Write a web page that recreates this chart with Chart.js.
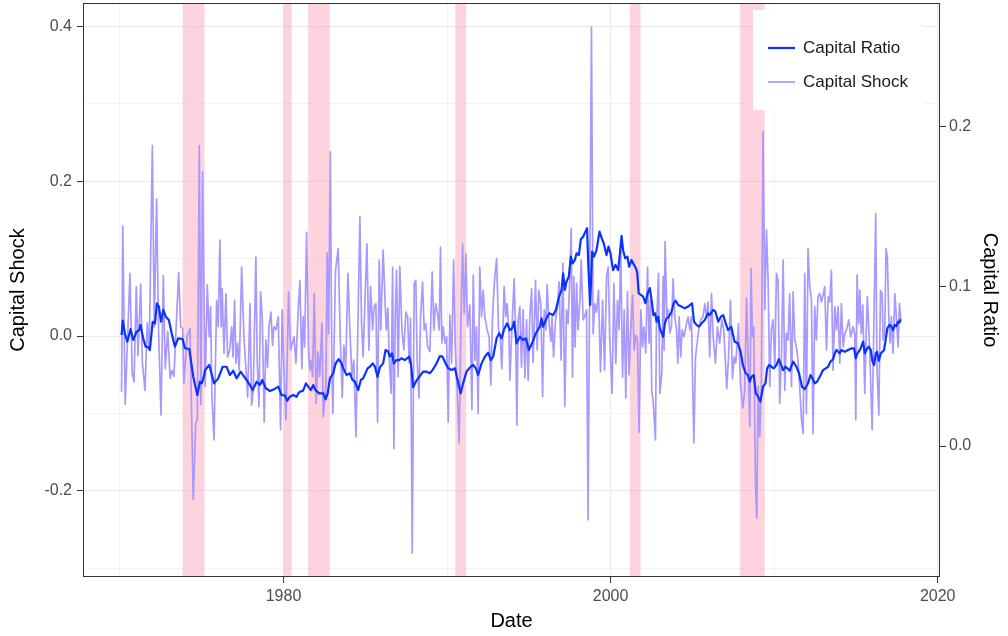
<!DOCTYPE html>
<html><head><meta charset="utf-8">
<script src="https://cdn.jsdelivr.net/npm/chart.js@4.4.1/dist/chart.umd.min.js"></script>
<style>html,body{margin:0;padding:0;background:#fff}#wrap{width:1008px;height:636px;position:relative}</style>
</head><body><div id="wrap"><canvas id="c"></canvas></div>
<script>
// ---- data ----
const shockDates = [1970.10,1970.17,1970.32,1970.61,1970.75,1970.86,1971.00,1971.10,1971.27,1971.37,1971.53,1971.67,1971.79,1971.98,1972.10,1972.24,1972.36,1972.51,1972.65,1972.77,1972.92,1973.07,1973.18,1973.30,1973.44,1973.59,1973.71,1973.83,1973.91,1974.10,1974.28,1974.48,1974.63,1974.73,1974.85,1974.95,1975.05,1975.21,1975.34,1975.46,1975.54,1975.62,1975.75,1975.91,1976.01,1976.11,1976.19,1976.25,1976.36,1976.48,1976.58,1976.71,1976.83,1976.91,1977.01,1977.09,1977.19,1977.29,1977.44,1977.58,1977.68,1977.81,1977.95,1978.05,1978.15,1978.31,1978.39,1978.50,1978.60,1978.70,1978.82,1978.92,1979.03,1979.11,1979.23,1979.33,1979.41,1979.54,1979.68,1979.82,1979.92,1980.02,1980.15,1980.31,1980.43,1980.64,1980.76,1980.88,1981.00,1981.12,1981.20,1981.29,1981.41,1981.53,1981.61,1981.69,1981.78,1981.88,1982.00,1982.10,1982.21,1982.35,1982.43,1982.59,1982.67,1982.76,1982.86,1982.96,1983.02,1983.10,1983.18,1983.34,1983.47,1983.59,1983.69,1983.80,1983.94,1984.06,1984.18,1984.30,1984.43,1984.53,1984.67,1984.77,1984.87,1984.98,1985.10,1985.22,1985.32,1985.45,1985.54,1985.65,1985.75,1985.85,1985.95,1986.09,1986.28,1986.38,1986.46,1986.58,1986.67,1986.75,1986.83,1986.91,1987.01,1987.11,1987.24,1987.36,1987.48,1987.59,1987.68,1987.77,1987.87,1987.99,1988.09,1988.17,1988.28,1988.38,1988.50,1988.60,1988.70,1988.81,1988.95,1989.09,1989.19,1989.30,1989.42,1989.52,1989.60,1989.68,1989.76,1989.87,1989.97,1990.07,1990.17,1990.28,1990.40,1990.50,1990.62,1990.74,1990.84,1990.95,1991.05,1991.15,1991.25,1991.39,1991.52,1991.60,1991.70,1991.80,1991.90,1992.00,1992.11,1992.21,1992.31,1992.45,1992.57,1992.68,1992.78,1992.90,1993.03,1993.15,1993.25,1993.35,1993.49,1993.59,1993.67,1993.78,1993.84,1993.96,1994.10,1994.19,1994.27,1994.35,1994.45,1994.55,1994.65,1994.76,1994.86,1994.96,1995.06,1995.17,1995.26,1995.41,1995.51,1995.61,1995.73,1995.84,1995.94,1996.04,1996.12,1996.24,1996.35,1996.42,1996.51,1996.63,1996.75,1996.85,1996.97,1997.08,1997.20,1997.30,1997.40,1997.51,1997.59,1997.67,1997.75,1997.83,1997.92,1998.01,1998.12,1998.20,1998.32,1998.42,1998.53,1998.62,1998.83,1998.93,1999.03,1999.14,1999.26,1999.38,1999.51,1999.63,1999.75,1999.85,1999.95,2000.09,2000.20,2000.32,2000.42,2000.52,2000.62,2000.73,2000.83,2000.93,2001.03,2001.13,2001.23,2001.34,2001.44,2001.54,2001.64,2001.74,2001.85,2001.95,2002.03,2002.15,2002.26,2002.35,2002.44,2002.52,2002.60,2002.74,2002.80,2002.93,2003.01,2003.13,2003.21,2003.27,2003.33,2003.44,2003.52,2003.62,2003.72,2003.82,2003.92,2004.03,2004.11,2004.19,2004.29,2004.37,2004.49,2004.64,2004.74,2004.84,2004.94,2005.09,2005.19,2005.29,2005.41,2005.51,2005.65,2005.76,2005.86,2005.96,2006.06,2006.17,2006.27,2006.41,2006.53,2006.67,2006.80,2006.92,2007.10,2007.21,2007.33,2007.45,2007.55,2007.65,2007.82,2007.94,2008.08,2008.20,2008.31,2008.41,2008.51,2008.59,2008.67,2008.75,2008.86,2008.94,2009.02,2009.12,2009.22,2009.32,2009.43,2009.53,2009.63,2009.73,2009.83,2009.93,2010.04,2010.14,2010.24,2010.34,2010.45,2010.55,2010.65,2010.75,2010.85,2010.95,2011.06,2011.16,2011.26,2011.36,2011.46,2011.56,2011.67,2011.77,2011.87,2011.97,2012.07,2012.18,2012.28,2012.38,2012.48,2012.58,2012.68,2012.79,2012.89,2012.99,2013.09,2013.20,2013.30,2013.40,2013.50,2013.60,2013.71,2013.81,2013.91,2014.01,2014.11,2014.22,2014.32,2014.42,2014.56,2014.68,2014.83,2014.93,2014.99,2015.07,2015.17,2015.24,2015.33,2015.42,2015.54,2015.62,2015.70,2015.84,2015.99,2016.09,2016.21,2016.29,2016.40,2016.50,2016.60,2016.66,2016.76,2016.84,2016.92,2017.01,2017.09,2017.17,2017.27,2017.38,2017.47,2017.58,2017.66,2017.74];
const shockValues = [-0.072,0.142,-0.088,0.081,-0.048,-0.059,0.064,-0.025,0.067,-0.035,-0.070,0.017,-0.018,0.246,0.012,0.177,0.008,-0.102,0.078,-0.042,0.006,-0.055,-0.044,-0.052,0.014,0.082,0.012,0.010,-0.061,-0.001,0.010,-0.211,-0.113,-0.108,0.246,-0.088,0.212,-0.065,0.066,-0.001,0.038,-0.076,-0.134,0.046,0.012,0.124,0.012,0.061,-0.022,0.055,-0.027,-0.018,0.012,-0.027,0.046,-0.035,-0.009,-0.044,0.089,-0.001,-0.035,-0.079,0.042,-0.089,-0.070,0.102,-0.031,-0.091,0.057,0.025,-0.111,-0.005,-0.040,0.012,0.031,-0.012,0.012,0.008,0.025,-0.121,0.034,-0.040,-0.108,0.057,-0.018,-0.001,-0.035,0.025,0.072,-0.042,0.025,-0.014,0.134,-0.020,-0.044,-0.031,-0.052,0.055,-0.087,-0.020,-0.052,0.017,-0.104,-0.065,0.107,0.003,0.238,-0.052,-0.100,-0.001,0.085,0.113,-0.001,-0.079,-0.012,-0.044,0.081,0.006,-0.051,-0.031,-0.130,-0.009,0.154,0.018,-0.027,0.046,0.119,-0.018,0.064,0.008,0.038,0.042,-0.111,0.098,0.008,0.111,0.008,0.036,-0.027,-0.074,0.089,-0.145,0.027,0.085,-0.052,0.090,0.008,-0.018,0.031,0.025,-0.035,0.023,-0.280,0.068,0.072,-0.031,-0.080,0.025,0.070,0.008,0.016,-0.014,-0.020,0.083,0.008,0.042,0.029,0.008,0.115,-0.009,0.012,-0.009,-0.001,-0.111,0.027,-0.035,0.098,-0.014,-0.070,-0.138,0.008,0.119,0.029,0.106,0.012,0.040,-0.095,0.079,-0.031,0.012,-0.100,0.089,0.025,0.059,0.025,0.008,-0.001,-0.063,0.025,0.072,0.100,0.008,-0.001,-0.042,0.064,0.025,0.042,0.008,-0.057,0.008,0.074,0.008,-0.115,0.021,0.038,-0.040,0.034,-0.054,0.021,-0.057,0.025,0.061,-0.034,0.072,-0.018,0.059,0.042,-0.078,0.034,0.008,0.066,0.016,-0.007,0.025,-0.027,0.021,0.038,0.070,-0.031,0.094,-0.091,0.034,0.016,0.077,0.139,-0.053,0.077,-0.014,0.068,0.008,0.046,0.098,0.021,0.026,0.034,-0.237,0.399,0.003,0.042,0.031,0.059,-0.046,0.046,-0.044,0.077,0.089,-0.005,-0.074,0.068,-0.035,0.046,0.008,0.111,-0.053,0.034,-0.080,0.057,-0.050,0.008,0.053,-0.018,0.001,-0.005,-0.124,0.034,-0.014,0.012,-0.022,0.089,-0.009,0.046,-0.072,-0.083,-0.134,0.008,0.081,-0.074,-0.048,0.077,-0.018,0.122,0.025,0.034,0.004,0.012,0.074,0.025,0.008,-0.035,0.025,-0.027,0.008,-0.001,0.016,0.025,0.008,0.025,-0.138,-0.027,-0.009,0.012,0.021,0.025,0.042,0.025,0.044,-0.027,0.055,-0.001,-0.035,0.012,-0.009,0.021,0.008,-0.068,-0.027,0.046,-0.055,-0.027,-0.035,0.016,-0.061,-0.093,-0.070,0.049,-0.031,-0.117,0.087,-0.001,0.012,-0.194,-0.235,-0.065,-0.130,-0.061,0.264,0.034,0.137,0.072,-0.065,0.008,0.021,-0.040,0.081,0.072,-0.087,-0.022,0.098,-0.070,0.004,-0.005,0.055,-0.065,0.057,-0.005,-0.014,-0.031,-0.065,-0.108,-0.126,0.081,-0.100,0.113,0.064,0.046,-0.126,0.038,-0.005,0.051,0.055,0.044,0.053,0.064,-0.018,0.051,0.044,0.085,-0.044,0.038,0.008,0.038,-0.035,0.042,-0.014,0.003,0.008,0.021,-0.001,0.012,0.003,-0.108,0.079,0.016,0.059,0.003,0.040,-0.074,-0.001,0.051,-0.018,-0.121,0.008,0.158,-0.044,-0.102,0.059,0.055,-0.005,0.003,0.113,0.102,0.025,-0.009,0.025,-0.022,0.055,0.025,-0.014,0.042,0.021];
const ratioDates = [1970.10,1970.17,1970.31,1970.45,1970.65,1970.81,1971.02,1971.18,1971.26,1971.42,1971.57,1971.73,1971.83,1972.00,1972.14,1972.26,1972.38,1972.51,1972.65,1972.81,1972.99,1973.16,1973.36,1973.56,1973.83,1973.97,1974.24,1974.48,1974.73,1974.89,1975.01,1975.15,1975.20,1975.46,1975.75,1976.01,1976.28,1976.52,1976.72,1976.93,1977.13,1977.38,1977.60,1977.74,1977.95,1978.11,1978.36,1978.56,1978.70,1978.92,1979.17,1979.41,1979.68,1979.88,1980.09,1980.23,1980.39,1980.59,1980.80,1980.90,1981.00,1981.20,1981.37,1981.51,1981.67,1981.82,1981.96,1982.18,1982.43,1982.57,1982.70,1982.84,1983.04,1983.19,1983.37,1983.55,1983.65,1983.86,1984.06,1984.22,1984.36,1984.57,1984.73,1984.87,1985.14,1985.28,1985.45,1985.59,1985.75,1985.89,1986.09,1986.24,1986.40,1986.50,1986.63,1986.75,1986.91,1987.07,1987.20,1987.42,1987.68,1987.79,1987.93,1988.09,1988.23,1988.38,1988.54,1988.75,1988.95,1989.11,1989.36,1989.56,1989.72,1989.91,1990.07,1990.28,1990.48,1990.62,1990.83,1990.98,1991.19,1991.35,1991.50,1991.60,1991.76,1991.90,1992.11,1992.31,1992.51,1992.68,1992.82,1993.03,1993.19,1993.33,1993.49,1993.67,1993.84,1993.98,1994.10,1994.25,1994.45,1994.65,1994.82,1995.00,1995.20,1995.43,1995.67,1995.78,1995.87,1996.08,1996.24,1996.49,1996.65,1996.85,1997.00,1997.10,1997.20,1997.30,1997.44,1997.57,1997.67,1997.81,1997.92,1998.06,1998.18,1998.32,1998.46,1998.56,1998.64,1998.75,1998.87,1998.99,1999.14,1999.32,1999.46,1999.58,1999.75,1999.87,1999.99,2000.15,2000.30,2000.46,2000.56,2000.67,2000.76,2000.89,2001.03,2001.13,2001.28,2001.38,2001.50,2001.62,2001.72,2001.85,2001.99,2002.13,2002.26,2002.40,2002.53,2002.62,2002.72,2002.81,2002.91,2003.01,2003.21,2003.32,2003.42,2003.56,2003.72,2003.86,2003.98,2004.13,2004.33,2004.53,2004.74,2004.98,2005.10,2005.25,2005.41,2005.56,2005.76,2005.96,2006.06,2006.27,2006.41,2006.58,2006.74,2006.88,2007.04,2007.18,2007.38,2007.58,2007.78,2007.95,2008.09,2008.26,2008.39,2008.51,2008.61,2008.75,2008.88,2009.02,2009.16,2009.32,2009.47,2009.57,2009.69,2009.83,2009.98,2010.14,2010.28,2010.39,2010.55,2010.69,2010.81,2010.95,2011.16,2011.36,2011.52,2011.70,2011.87,2012.07,2012.22,2012.34,2012.48,2012.62,2012.79,2012.99,2013.15,2013.30,2013.44,2013.60,2013.71,2013.81,2013.91,2014.01,2014.11,2014.32,2014.52,2014.72,2014.89,2014.99,2015.09,2015.24,2015.33,2015.44,2015.54,2015.64,2015.78,2015.91,2016.01,2016.11,2016.21,2016.29,2016.40,2016.52,2016.62,2016.72,2016.80,2016.92,2017.05,2017.17,2017.27,2017.38,2017.47,2017.58,2017.66,2017.74];
const ratioValues = [0.0696,0.0786,0.0702,0.0654,0.0732,0.0665,0.0717,0.0727,0.0759,0.0675,0.0623,0.0619,0.0602,0.0779,0.0769,0.0895,0.0873,0.0780,0.0853,0.0810,0.0790,0.0707,0.0623,0.0675,0.0671,0.0613,0.0608,0.0435,0.0320,0.0403,0.0393,0.0445,0.0476,0.0508,0.0393,0.0424,0.0497,0.0497,0.0445,0.0472,0.0424,0.0466,0.0434,0.0414,0.0382,0.0351,0.0403,0.0382,0.0414,0.0362,0.0345,0.0355,0.0372,0.0320,0.0316,0.0284,0.0309,0.0320,0.0309,0.0330,0.0340,0.0347,0.0393,0.0372,0.0351,0.0382,0.0350,0.0330,0.0330,0.0293,0.0330,0.0424,0.0456,0.0518,0.0544,0.0518,0.0487,0.0445,0.0456,0.0414,0.0403,0.0351,0.0414,0.0424,0.0487,0.0497,0.0518,0.0497,0.0434,0.0493,0.0518,0.0602,0.0591,0.0560,0.0581,0.0518,0.0539,0.0539,0.0550,0.0539,0.0560,0.0518,0.0368,0.0403,0.0424,0.0445,0.0466,0.0466,0.0456,0.0476,0.0518,0.0564,0.0560,0.0518,0.0487,0.0476,0.0487,0.0424,0.0330,0.0393,0.0466,0.0487,0.0502,0.0508,0.0487,0.0445,0.0518,0.0560,0.0585,0.0539,0.0560,0.0675,0.0707,0.0675,0.0732,0.0769,0.0727,0.0738,0.0779,0.0644,0.0685,0.0665,0.0675,0.0602,0.0644,0.0707,0.0748,0.0800,0.0748,0.0800,0.0832,0.0821,0.0853,0.0936,0.0978,0.1083,0.0978,0.1030,0.1061,0.1187,0.1145,0.1166,0.1208,0.1197,0.1296,0.1312,0.1344,0.1365,0.1124,0.0884,0.1218,0.1187,0.1229,0.1344,0.1302,0.1271,0.1197,0.1250,0.1208,0.1103,0.1135,0.1103,0.1197,0.1317,0.1229,0.1177,0.1187,0.1124,0.1166,0.1145,0.1124,0.1093,0.0957,0.0947,0.0936,0.0895,0.0957,0.0990,0.0895,0.0821,0.0832,0.0779,0.0810,0.0738,0.0685,0.0769,0.0800,0.0810,0.0842,0.0895,0.0911,0.0884,0.0874,0.0863,0.0874,0.0895,0.0779,0.0759,0.0748,0.0769,0.0790,0.0832,0.0821,0.0853,0.0842,0.0779,0.0810,0.0821,0.0769,0.0727,0.0748,0.0654,0.0644,0.0590,0.0508,0.0456,0.0445,0.0403,0.0434,0.0445,0.0330,0.0309,0.0278,0.0372,0.0393,0.0487,0.0508,0.0497,0.0487,0.0508,0.0544,0.0518,0.0476,0.0497,0.0487,0.0472,0.0529,0.0497,0.0456,0.0372,0.0356,0.0393,0.0445,0.0424,0.0393,0.0403,0.0434,0.0476,0.0487,0.0497,0.0529,0.0544,0.0581,0.0602,0.0591,0.0581,0.0602,0.0591,0.0602,0.0612,0.0612,0.0550,0.0581,0.0602,0.0623,0.0654,0.0581,0.0602,0.0623,0.0602,0.0529,0.0508,0.0581,0.0591,0.0535,0.0581,0.0591,0.0602,0.0654,0.0738,0.0759,0.0748,0.0727,0.0759,0.0752,0.0779,0.0773,0.0794];
const recessionStarts = [1973.83, 1980.00, 1981.50, 1990.50, 2001.17, 2007.92];
const recessionEnds   = [1975.17, 1980.50, 1982.83, 1991.17, 2001.83, 2009.42];
const xTickValues = [1970, 1980, 1990, 2000, 2010, 2020];
const xTickLabels = ['', '1980', '', '2000', '', '2020'];
const leftTickValues = [-0.3, -0.2, -0.1, 0, 0.1, 0.2, 0.3, 0.4];
const leftTickLabels = ['', '-0.2', '', '0.0', '', '0.2', '', '0.4'];
const rightTickValues = [0, 0.1, 0.2];
const rightTickLabels = ['0.0', '0.1', '0.2'];
const seriesNames = ['Capital Ratio', 'Capital Shock'];

// ---- styling ----
const FONT = "'Liberation Sans', Arial, Helvetica, sans-serif";
const GRID = '#ebebeb';
const TICK = '#333333';
const RATIO_COLOR = '#0a33ff';
const SHOCK_COLOR = '#a898ff';

const isMajor = (labels, i) => labels[i] !== '';
function gridStyle(labels) {
  return {
    color: ctx => GRID,
    lineWidth: ctx => isMajor(labels, ctx.index) ? 1.1 : 0.6,
    tickColor: ctx => isMajor(labels, ctx.index) ? TICK : 'rgba(0,0,0,0)',
    tickWidth: 1,
    tickLength: 6,
    drawTicks: true
  };
}
function zeroPad(axis) {
  axis.paddingTop = 0; axis.paddingBottom = 0;
  axis.paddingLeft = 0; axis.paddingRight = 0;
}

const bandsPlugin = {
  id: 'bands',
  beforeDatasetsDraw(chart) {
    const {ctx, chartArea, scales} = chart;
    ctx.save();
    ctx.fillStyle = 'rgba(250,160,180,0.45)';
    for (let i = 0; i < recessionStarts.length; i++) {
      const x1 = scales.x.getPixelForValue(recessionStarts[i]);
      const x2 = scales.x.getPixelForValue(recessionEnds[i]);
      ctx.fillRect(x1, chartArea.top, x2 - x1, chartArea.bottom - chartArea.top);
    }
    ctx.restore();
  }
};

const legendPlugin = {
  id: 'innerLegend',
  afterDatasetsDraw(chart) {
    const {ctx, chartArea} = chart;
    const bx = chartArea.right - 187, by = chartArea.top + 7, bw = 170, bh = 100;
    ctx.save();
    ctx.fillStyle = '#ffffff';
    ctx.fillRect(bx, by, bw, bh);
    const ds = chart.data.datasets;
    const rows = [by + 38, by + 72];
    ds.forEach((d, i) => {
      ctx.strokeStyle = d.borderColor;
      ctx.lineWidth = d.borderWidth;
      ctx.beginPath();
      ctx.moveTo(bx + 15, rows[i]);
      ctx.lineTo(bx + 42, rows[i]);
      ctx.stroke();
      ctx.fillStyle = '#1a1a1a';
      ctx.font = '17px ' + FONT;
      ctx.textBaseline = 'middle';
      ctx.textAlign = 'left';
      ctx.fillText(d.label, bx + 50, rows[i]);
    });
    // panel border
    ctx.strokeStyle = TICK;
    ctx.lineWidth = 1;
    ctx.strokeRect(chartArea.left + 0.5, chartArea.top + 0.5, chartArea.right - chartArea.left - 1, chartArea.bottom - chartArea.top - 1);
    ctx.restore();
  }
};

new Chart(document.getElementById('c'), {
  type: 'line',
  data: {
    datasets: [
      {
        label: seriesNames[0],
        data: ratioDates.map((d, i) => ({x: d, y: ratioValues[i]})),
        yAxisID: 'y2',
        borderColor: RATIO_COLOR,
        borderWidth: 2.2,
        pointRadius: 0,
        tension: 0,
        borderJoinStyle: 'round'
      },
      {
        label: seriesNames[1],
        data: shockDates.map((d, i) => ({x: d, y: shockValues[i]})),
        yAxisID: 'y',
        borderColor: SHOCK_COLOR,
        borderWidth: 1.7,
        pointRadius: 0,
        tension: 0,
        borderJoinStyle: 'round'
      }
    ]
  },
  options: {
    responsive: true,
    maintainAspectRatio: false,
    animation: false,
    events: [],
    layout: {padding: {top: 3, left: 0, right: 0, bottom: 0}},
    plugins: {legend: {display: false}, tooltip: {enabled: false}},
    scales: {
      x: {
        type: 'linear',
        min: 1967.74, max: 2020.14,
        afterBuildTicks: axis => { axis.ticks = xTickValues.map(v => ({value: v})); },
        afterFit: axis => { axis.height = 59; zeroPad(axis); },
        ticks: {
          autoSkip: false, maxRotation: 0, padding: 4,
          color: '#4d4d4d', font: {family: FONT, size: 16},
          callback: (v, i) => xTickLabels[i]
        },
        grid: gridStyle(xTickLabels),
        border: {display: false},
        title: {display: true, text: 'Date', color: '#000', font: {family: FONT, size: 20}, padding: {top: 0, bottom: 3}}
      },
      y: {
        type: 'linear', position: 'left',
        min: -0.311, max: 0.430,
        afterBuildTicks: axis => { axis.ticks = leftTickValues.map(v => ({value: v})); },
        afterFit: axis => { axis.width = 83; zeroPad(axis); },
        ticks: {
          autoSkip: false, padding: 5,
          color: '#4d4d4d', font: {family: FONT, size: 16},
          callback: (v, i) => leftTickLabels[i]
        },
        grid: gridStyle(leftTickLabels),
        border: {display: false},
        title: {display: true, text: 'Capital Shock', color: '#000', font: {family: FONT, size: 20}, padding: {top: 6, bottom: 0}}
      },
      y2: {
        type: 'linear', position: 'right',
        min: -0.0821, max: 0.2777,
        afterBuildTicks: axis => { axis.ticks = rightTickValues.map(v => ({value: v})); },
        afterFit: axis => { axis.width = 68; zeroPad(axis); },
        ticks: {
          autoSkip: false, padding: 3,
          color: '#4d4d4d', font: {family: FONT, size: 16},
          callback: (v, i) => rightTickLabels[i]
        },
        grid: {drawOnChartArea: false, tickColor: TICK, tickLength: 6, tickWidth: 1},
        border: {display: false},
        title: {display: true, text: 'Capital Ratio', color: '#000', font: {family: FONT, size: 20}, padding: {top: 6, bottom: 0}}
      }
    }
  },
  plugins: [bandsPlugin, legendPlugin]
});
</script>
</body></html>
